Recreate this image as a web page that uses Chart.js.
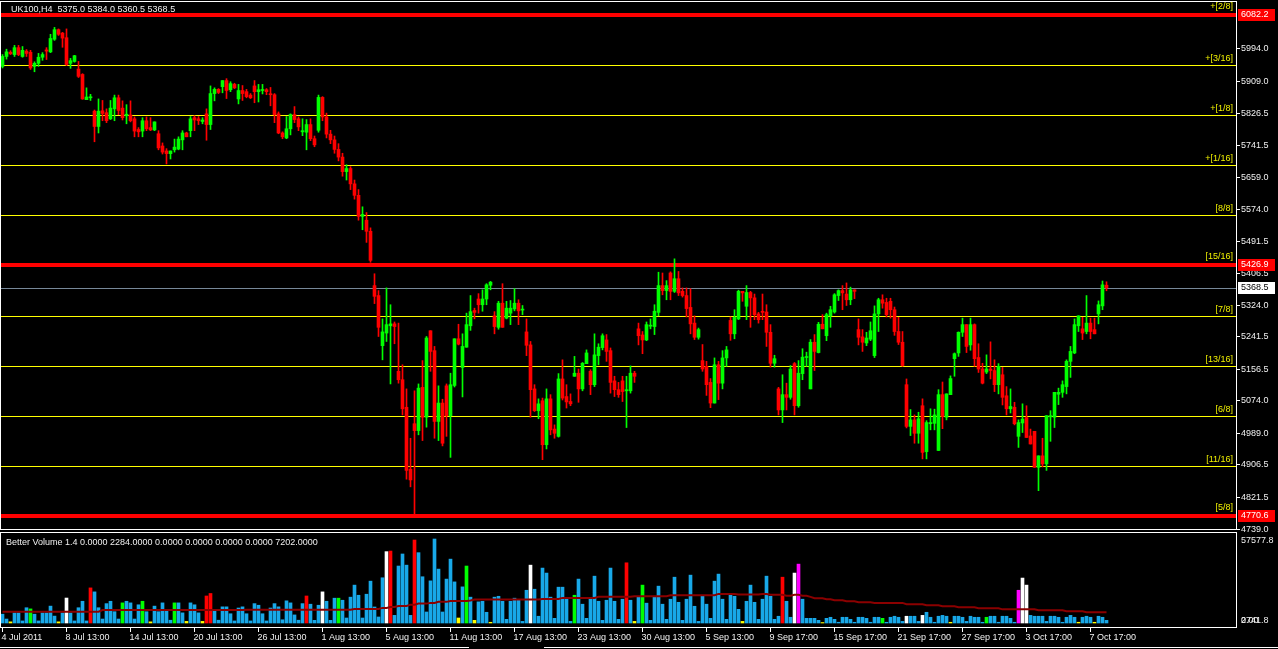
<!DOCTYPE html>
<html>
<head>
<meta charset="utf-8">
<title>UK100,H4</title>
<script src="https://cdn.jsdelivr.net/npm/chart.js@4.4.0/dist/chart.umd.min.js"></script>
<style>
  html, body { margin: 0; padding: 0; background: #000; overflow: hidden; }
  canvas { display: block; }
</style>
</head>
<body>
<canvas id="chart" width="1278" height="649"></canvas>
<script>
// ---- data (one value per bar, bar 0 = 4 Jul 2011) ----
const opens = [
  5947,5973,5984,5978,5996,5973,5987,5984,5947,5955,
  5971,5990,5985,6018,6043,6034,6022,5955,5960,5940,
  5926,5860,5865,5830,5790,5831,5826,5810,5836,5865,
  5838,5818,5820,5810,5782,5778,5805,5787,5781,5771,
  5739,5726,5719,5729,5731,5755,5773,5779,5813,5810,
  5803,5823,5795,5876,5887,5894,5910,5886,5900,5862,
  5884,5881,5872,5896,5881,5884,5886,5874,5873,5823,
  5773,5760,5784,5821,5810,5776,5775,5795,5758,5780,
  5866,5815,5770,5755,5730,5710,5672,5680,5640,5610,
  5555,5545,5516,5374,5348,5217,5250,5269,5274,5150,
  5128,5056,4894,5013,4995,5108,5030,5256,5204,5019,
  5067,5112,5034,5113,5235,5160,5213,5269,5309,5339,
  5324,5339,5375,5295,5265,5328,5289,5302,5313,5328,
  5310,5253,5219,5104,5047,5073,4958,5078,4999,4980,
  5130,5084,5071,5137,5145,5104,5170,5150,5115,5191,
  5212,5232,5204,5125,5102,5125,5099,5099,5145,5261,
  5245,5232,5268,5267,5304,5374,5361,5407,5359,5392,
  5359,5348,5317,5276,5239,5178,5163,5121,5067,5167,
  5119,5185,5283,5248,5287,5359,5320,5356,5342,5300,
  5307,5305,5252,5171,5104,5049,5089,5082,5170,5060,
  5144,5186,5104,5226,5199,5273,5243,5295,5305,5348,
  5361,5352,5337,5363,5259,5240,5224,5234,5191,5300,
  5337,5330,5333,5311,5254,5226,5115,5006,5023,4988,
  5060,4940,5013,5014,4943,5089,5030,5089,5183,5198,
  5252,5272,5219,5272,5186,5156,5148,5156,5152,5115,
  5141,5086,5052,5056,4980,5015,5029,4981,4993,4899,
  4929,4908,5031,5030,5090,5095,5110,5176,5198,5269,
  5261,5254,5276,5259,5300,5321,5375.0
];
const highs = [
  5978,5992,5988,6002,6002,5999,5991,5989,5959,5981,
  5983,5996,6031,6049,6045,6036,6045,5968,5976,5960,
  5928,5891,5874,5833,5862,5858,5836,5858,5872,5872,
  5857,5847,5857,5815,5787,5813,5815,5813,5802,5779,
  5747,5732,5726,5757,5763,5779,5775,5816,5818,5816,
  5813,5836,5896,5891,5889,5910,5915,5907,5903,5900,
  5897,5887,5876,5910,5900,5900,5889,5892,5876,5828,
  5776,5816,5823,5842,5815,5810,5808,5810,5765,5872,
  5868,5825,5780,5765,5745,5720,5690,5685,5650,5625,
  5580,5565,5525,5405,5361,5287,5368,5324,5279,5276,
  5167,5104,4975,5099,5117,5178,5241,5256,5215,5112,
  5077,5117,5145,5235,5273,5248,5302,5348,5315,5353,
  5363,5379,5385,5306,5333,5379,5333,5335,5366,5337,
  5322,5287,5228,5115,5078,5080,5104,5089,5010,5144,
  5180,5115,5091,5189,5156,5173,5206,5154,5248,5222,
  5248,5246,5211,5137,5121,5137,5137,5164,5150,5276,
  5254,5279,5287,5324,5409,5407,5387,5410,5444,5411,
  5368,5368,5366,5295,5263,5220,5176,5131,5185,5176,
  5204,5215,5292,5311,5362,5359,5374,5359,5352,5304,
  5352,5324,5272,5192,5108,5141,5119,5165,5173,5178,
  5209,5200,5233,5246,5278,5298,5302,5320,5353,5363,
  5374,5381,5370,5363,5287,5259,5252,5279,5321,5341,
  5350,5341,5341,5318,5291,5254,5130,5050,5036,5043,
  5078,5021,5052,5051,5102,5122,5091,5138,5198,5253,
  5289,5272,5289,5274,5222,5171,5193,5227,5180,5170,
  5160,5110,5104,5069,5023,5065,5060,4999,4993,4929,
  4975,5034,5047,5095,5106,5125,5180,5215,5287,5295,
  5291,5348,5289,5289,5334,5386,5384.0
];
const lows = [
  5943,5966,5978,5973,5975,5971,5973,5939,5933,5947,
  5963,5965,5983,6015,6028,5997,5949,5942,5958,5918,
  5861,5860,5858,5750,5773,5805,5800,5808,5805,5821,
  5807,5797,5802,5763,5763,5763,5779,5779,5779,5729,
  5718,5692,5705,5723,5729,5729,5763,5763,5779,5795,
  5797,5754,5782,5857,5876,5878,5863,5881,5889,5849,
  5858,5865,5863,5852,5854,5875,5873,5844,5800,5771,
  5758,5758,5768,5800,5779,5766,5729,5753,5737,5775,
  5805,5760,5745,5720,5700,5660,5650,5625,5600,5545,
  5520,5487,5435,5327,5241,5180,5228,5117,5222,5119,
  5036,4868,4848,4775,4984,4969,5004,5150,4975,4969,
  4955,4980,4925,5109,5219,5083,5213,5257,5287,5302,
  5307,5324,5363,5248,5260,5265,5287,5272,5308,5272,
  5298,5191,5030,5045,5026,4919,4947,4984,4975,4978,
  5075,5054,5060,5137,5069,5099,5170,5089,5110,5167,
  5206,5176,5093,5084,5082,5071,5003,5093,5121,5219,
  5196,5230,5261,5246,5295,5350,5337,5337,5356,5348,
  5344,5292,5248,5233,5234,5150,5087,5055,5067,5076,
  5104,5163,5231,5235,5285,5333,5285,5265,5285,5276,
  5285,5215,5161,5161,5036,5016,5049,5077,5036,5056,
  5128,5163,5104,5152,5198,5261,5230,5265,5302,5335,
  5311,5322,5324,5340,5219,5202,5217,5230,5186,5254,
  5315,5292,5289,5244,5220,5163,5002,4982,4962,4962,
  4921,4921,4997,4997,4943,5000,5023,5089,5137,5189,
  5241,5199,5205,5163,5147,5117,5144,5130,5097,5091,
  5062,5036,5041,5010,4951,4990,4977,4960,4899,4838,
  4900,4891,4967,5003,5063,5082,5091,5134,5196,5254,
  5233,5248,5235,5248,5274,5311,5360.5
];
const closes = [
  5973,5985,5980,5996,5978,5989,5981,5943,5955,5971,
  5978,5987,6020,6043,6031,6021,5952,5962,5975,5921,
  5862,5867,5866,5790,5830,5824,5805,5838,5865,5832,
  5813,5822,5805,5778,5776,5805,5784,5781,5802,5734,
  5723,5719,5726,5736,5757,5773,5763,5810,5807,5805,
  5807,5795,5876,5887,5879,5910,5884,5902,5891,5884,
  5876,5868,5865,5881,5886,5886,5881,5873,5821,5773,
  5763,5784,5821,5808,5789,5779,5795,5758,5742,5866,
  5815,5770,5755,5730,5710,5672,5680,5640,5610,5555,
  5560,5516,5440,5346,5265,5253,5272,5274,5267,5128,
  5052,4891,4866,4995,5106,5030,5237,5202,5019,5067,
  4962,5034,5115,5235,5221,5215,5272,5306,5304,5324,
  5339,5376,5383,5267,5328,5265,5315,5315,5328,5308,
  5311,5218,5102,5047,5065,4958,5078,4997,4988,5130,
  5080,5070,5065,5145,5104,5171,5198,5115,5193,5213,
  5243,5202,5121,5102,5089,5097,5102,5145,5137,5243,
  5232,5272,5270,5307,5374,5361,5374,5359,5392,5355,
  5348,5314,5274,5239,5259,5156,5115,5067,5167,5119,
  5185,5206,5248,5291,5359,5355,5356,5342,5298,5285,
  5304,5252,5171,5183,5049,5089,5082,5156,5060,5145,
  5187,5188,5226,5202,5273,5261,5298,5311,5350,5361,
  5355,5337,5363,5359,5239,5226,5237,5256,5300,5337,
  5328,5298,5311,5254,5226,5165,5006,5023,4988,5026,
  4938,5016,5016,5036,5089,5032,5091,5131,5196,5252,
  5272,5215,5272,5183,5156,5119,5156,5152,5115,5163,
  5082,5052,5058,5013,5016,5025,4977,4960,4899,4929,
  4908,5034,5034,5095,5095,5115,5176,5202,5272,5295,
  5250,5276,5254,5248,5324,5376,5368.5
];

// Better Volume histogram
const volumes = [
  6000,2700,800,6900,6900,1400,10400,9600,6000,1400,
  6900,6900,11500,4700,800,6900,17000,6900,1400,10400,
  14800,1400,23900,21200,10400,2700,13200,14800,7700,2700,
  13700,14800,13700,2700,12400,14800,7700,800,11500,7700,
  13700,8200,1900,13700,13700,6900,1100,13700,12400,6900,
  1100,18400,20100,8200,1900,11000,11000,6300,1400,10200,
  11000,6300,1400,13200,12100,6300,1400,10200,13200,11000,
  2200,15100,13700,5500,1900,13200,18400,12800,1800,12100,
  21200,14800,1800,16900,16900,15500,3400,17600,25800,18900,
  3400,19600,28500,10900,4100,30800,48600,49000,5200,38800,
  47000,39400,5200,56500,47900,31500,7500,28700,57200,36700,
  7500,29900,43500,28000,3400,24600,38800,17600,1800,14400,
  14800,7300,500,17600,18200,14800,2500,14800,16900,15500,
  1100,22300,39400,23000,4600,37400,34000,17600,3200,24400,
  24400,16900,1100,18900,29900,12800,3200,16900,31900,14800,
  1800,15500,37400,14800,2500,16200,41000,15500,1100,17600,
  25800,13500,1800,17600,25100,12800,2500,16200,31200,14100,
  1800,16200,32600,11400,1100,18200,12800,3200,28500,33300,
  16200,2500,18900,18200,9300,1100,14800,25800,14100,2500,
  16200,31900,18200,2500,4600,31200,14800,3900,34000,40100,
  16200,3200,3200,3200,1800,300,3200,3900,2500,500,
  3900,3900,2500,500,3900,3900,3200,500,3900,3900,
  3200,500,3900,4600,3900,1100,4600,4600,4600,1100,
  5200,7300,3900,500,4600,5200,4600,500,4600,4600,
  3900,1100,4600,3900,3900,500,3900,4600,4600,500,
  4600,4600,3200,500,22300,30600,25800,5200,4600,4600,
  4600,1100,4600,4600,3900,500,3900,5200,3900,500,
  3900,4600,3900,500,4600,3900,1800
];
// the indicator's moving-average line, read per bar
const volumeAverage = [
  7700,7700,7700,7700,7700,7700,7700,7700,7700,7700,
  7700,7700,7700,7700,7700,7700,7700,7700,7700,7700,
  7700,7700,7700,7700,7700,8800,8800,8800,8800,8800,
  8800,8800,8800,8800,8800,8800,8800,8800,8800,8800,
  8800,8800,8800,8800,8800,8800,8800,8800,8800,8800,
  8800,8800,8800,8800,8800,8800,8800,8800,8800,8800,
  8800,9100,9100,9100,9100,9100,9100,9100,9100,9100,
  9100,9100,9100,9100,9100,9100,9100,9100,9100,9100,
  9100,9100,9100,9100,9100,9100,9100,9100,9600,9600,
  9600,9600,9600,9600,9600,10300,10300,10900,10900,11600,
  11600,11600,12500,12500,13200,13200,13200,13700,13700,14400,
  14400,14400,15000,15000,15000,15000,15000,15300,16000,16000,
  16000,16000,16000,16000,16000,16000,16000,16000,16000,16000,
  16000,16000,16000,16000,16000,16400,16400,16400,16400,16400,
  17100,17100,17100,17100,17100,17100,17100,17100,17100,17800,
  17800,17800,17800,17800,17800,17800,17800,17800,18200,18200,
  18200,18200,18200,18200,18200,18200,18200,18900,18900,18900,
  18900,18900,18900,18900,18900,18900,18900,18900,18900,19800,
  19800,19800,19800,19800,19400,19400,19400,19400,19400,19400,
  19800,19800,19200,19200,19200,19200,18500,18500,19200,19200,
  18500,18500,17800,16900,16900,16900,16200,16200,15500,15500,
  15500,14800,14800,14800,14100,14100,14100,14100,13700,13700,
  13700,13700,13700,13700,13700,13700,12800,12800,12800,12800,
  12800,12100,12100,12100,12100,11400,11400,11400,11400,10700,
  10700,10700,10700,10700,10000,10000,10000,10000,10000,10000,
  9300,9300,9300,9300,9300,9300,9300,9300,9300,8700,
  8700,8700,8700,8700,8700,8700,8000,8000,8000,8000,
  8000,7300,7300,7300,7300,7300,7300
];
// bars the indicator paints in a colour other than blue
const volRedBars = [22, 51, 52, 76, 97, 103, 156, 195];
const volWhiteBars = [16, 80, 96, 132, 198, 226, 230, 255, 256];
const volGreenBars = [7, 30, 35, 43, 84, 116, 143, 160, 220, 246];
const volYellowBars = [2, 14, 37, 46, 50, 114, 118, 122, 158, 185, 205, 237, 269, 273];
const volMagentaBars = [199, 254];

// Murrey math levels drawn on the chart
const murreyLevels = [6082.2, 5951.0, 5819.9, 5688.7, 5557.6, 5426.9, 5295.2, 5164.1, 5032.9, 4901.8, 4770.6];
const murreyNames = ['+[2/8]', '+[3/16]', '+[1/8]', '+[1/16]', '[8/8]', '[15/16]', '[7/8]', '[13/16]', '[6/8]', '[11/16]', '[5/8]'];
const murreyMajor = ['+[2/8]', '[15/16]', '[5/8]'];
const bidPrice = 5368.5;

// axis labels
const priceTicks = [5994.0, 5909.0, 5826.5, 5741.5, 5659.0, 5574.0, 5491.5, 5406.5, 5324.0, 5241.5, 5156.5, 5074.0, 4989.0, 4906.5, 4821.5, 4739.0];
const timeTickBars = [0, 16, 32, 48, 64, 80, 96, 112, 128, 144, 160, 176, 192, 208, 224, 240, 256, 272];
const timeLabels = ['4 Jul 2011', '8 Jul 13:00', '14 Jul 13:00', '20 Jul 13:00', '26 Jul 13:00', '1 Aug 13:00',
  '5 Aug 13:00', '11 Aug 13:00', '17 Aug 13:00', '23 Aug 13:00', '30 Aug 13:00', '5 Sep 13:00',
  '9 Sep 17:00', '15 Sep 17:00', '21 Sep 17:00', '27 Sep 17:00', '3 Oct 17:00', '7 Oct 17:00'];
const volumeMaxLabel = '57577.8';
const volumeMinLabels = ['2741.8', '0.00'];
const headerText = 'UK100,H4  5375.0 5384.0 5360.5 5368.5';
const volumeHeader = 'Better Volume 1.4 0.0000 2284.0000 0.0000 0.0000 0.0000 0.0000 7202.0000';

// ---- styling ----
const FONT = '9px "Liberation Sans", Arial, sans-serif';
const TEXT = '#f0f0f0';
const UP = '#00ff00';
const DOWN = '#ff0000';
const PLOT_RIGHT = 1236;

function volColor(i) {
    if (volRedBars.includes(i)) return '#ff0000';
    if (volWhiteBars.includes(i)) return '#ffffff';
    if (volGreenBars.includes(i)) return '#00ff00';
    if (volYellowBars.includes(i)) return '#ffff00';
    if (volMagentaBars.includes(i)) return '#ff00ff';
    return '#18a8e8';
}

const bars = opens.map((_, i) => i);
const candleColors = bars.map((i) => (closes[i] >= opens[i] ? UP : DOWN));

const mt4Overlay = {
    id: 'mt4Overlay',
    beforeDraw(chart) {
        const c = chart.ctx;
        c.save();
        c.fillStyle = '#000';
        c.fillRect(0, 0, chart.width, chart.height);
        c.restore();
    },
    beforeDatasetsDraw(chart) {
        const c = chart.ctx;
        const y = chart.scales.y;
        c.save();
        murreyLevels.forEach((lvl, k) => {
            const py = Math.round(y.getPixelForValue(lvl));
            if (murreyMajor.includes(murreyNames[k])) {
                c.fillStyle = '#ff0000';
                c.fillRect(0, py - 2, PLOT_RIGHT, 4);
            } else {
                c.fillStyle = '#ffff00';
                c.fillRect(0, py, PLOT_RIGHT, 1);
            }
        });
        c.fillStyle = '#778899';
        c.fillRect(0, Math.round(y.getPixelForValue(bidPrice)), PLOT_RIGHT, 1);
        c.restore();
    },
    afterDraw(chart) {
        const c = chart.ctx;
        const x = chart.scales.x;
        const y = chart.scales.y;
        c.save();
        c.font = FONT;
        c.textBaseline = 'middle';

        // level names, right aligned above each line
        c.textAlign = 'right';
        c.fillStyle = '#f0f000';
        murreyLevels.forEach((lvl, k) => {
            const py = Math.round(y.getPixelForValue(lvl));
            const lift = murreyMajor.includes(murreyNames[k]) ? 8 : 6;
            c.fillText(murreyNames[k], 1233, py - lift);
        });

        // frames
        c.strokeStyle = '#ffffff';
        c.lineWidth = 1;
        c.strokeRect(0.5, 1.5, PLOT_RIGHT, 528);
        c.strokeRect(0.5, 532.5, PLOT_RIGHT, 95);
        c.beginPath();
        c.moveTo(0, 647.5); c.lineTo(469, 647.5);
        c.moveTo(544, 647.5); c.lineTo(1278, 647.5);
        c.stroke();

        // price axis
        c.textAlign = 'left';
        c.fillStyle = TEXT;
        priceTicks.forEach((p) => {
            const py = Math.round(y.getPixelForValue(p)) + 0.5;
            c.beginPath();
            c.moveTo(PLOT_RIGHT + 1, py); c.lineTo(PLOT_RIGHT + 4, py);
            c.stroke();
            c.fillText(p.toFixed(1), 1241, py);
        });
        murreyLevels.forEach((lvl, k) => {
            if (!murreyMajor.includes(murreyNames[k])) return;
            const py = Math.round(y.getPixelForValue(lvl));
            c.fillStyle = '#ff0000';
            c.fillRect(1238, py - 6, 37, 12);
            c.fillStyle = '#ffffff';
            c.fillText(lvl.toFixed(1), 1241, py);
        });
        const by = Math.round(y.getPixelForValue(bidPrice));
        c.fillStyle = '#ffffff';
        c.fillRect(1238, by - 6, 37, 12);
        c.fillStyle = '#000000';
        c.fillText(bidPrice.toFixed(1), 1241, by);

        // volume axis
        c.fillStyle = TEXT;
        c.fillText(volumeMaxLabel, 1241, 541);
        volumeMinLabels.forEach((t) => c.fillText(t, 1241, 621));

        // headers
        c.fillText(headerText, 11, 10);
        c.fillText(volumeHeader, 6, 543);

        // time axis
        timeTickBars.forEach((b, k) => {
            const px = Math.round(x.getPixelForValue(b)) - 0.5;
            c.beginPath();
            c.moveTo(px, 628); c.lineTo(px, 632);
            c.stroke();
            c.fillText(timeLabels[k], px - 1, 638);
        });
        c.restore();
    },
};

new Chart(document.getElementById('chart'), {
    type: 'bar',
    data: {
        datasets: [
            {
                type: 'line',
                label: 'volume average',
                yAxisID: 'yv',
                data: bars.map((i) => ({ x: i, y: volumeAverage[i] })),
                borderColor: '#8b0000',
                borderWidth: 2,
                pointRadius: 0,
                tension: 0,
                order: 0,
            },
            {
                label: 'body',
                yAxisID: 'y',
                data: bars.map((i) => ({ x: i, y: [opens[i], closes[i]] })),
                backgroundColor: candleColors,
                barThickness: 3,
                minBarLength: 1,
                grouped: false,
                order: 1,
            },
            {
                label: 'wick',
                yAxisID: 'y',
                data: bars.map((i) => ({ x: i, y: [lows[i], highs[i]] })),
                backgroundColor: candleColors,
                barThickness: 1,
                grouped: false,
                order: 2,
            },
            {
                label: 'volume',
                yAxisID: 'yv',
                data: bars.map((i) => ({ x: i, y: [0, volumes[i]] })),
                backgroundColor: bars.map(volColor),
                barThickness: 3,
                grouped: false,
                order: 3,
            },
        ],
    },
    options: {
        responsive: false,
        animation: false,
        devicePixelRatio: 1,
        layout: { padding: { left: 0, right: 1278 - PLOT_RIGHT, top: 0, bottom: 0 } },
        plugins: { legend: { display: false }, tooltip: { enabled: false } },
        scales: {
            x: { type: 'linear', min: -0.625, max: -0.625 + PLOT_RIGHT / 4, offset: false, display: false },
            y: { type: 'linear', min: 4424.1, max: 6120.6, display: false },
            yv: { type: 'linear', min: -17706, max: 424263, display: false },
        },
    },
    plugins: [mt4Overlay],
});
</script>
</body>
</html>
